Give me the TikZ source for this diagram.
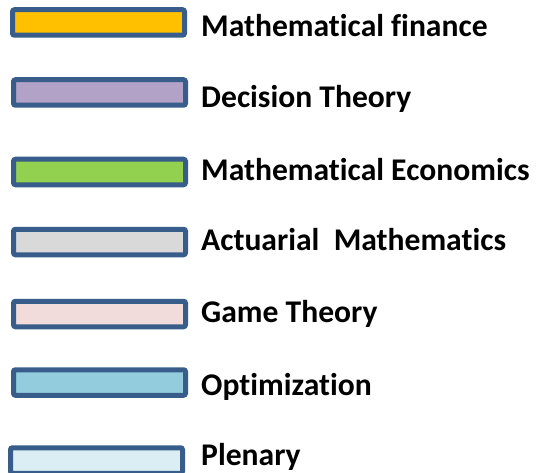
\documentclass[tikz,border=0pt]{standalone}
\usepackage{fontspec}
\setmainfont[Ligatures=NoCommon]{Carlito}
\definecolor{edgeblue}{HTML}{385D8A}
\definecolor{cfin}{HTML}{FFC000}
\definecolor{cdec}{HTML}{B3A2C7}
\definecolor{ceco}{HTML}{92D050}
\definecolor{cact}{HTML}{D9D9D9}
\definecolor{cgame}{HTML}{F2DCDB}
\definecolor{copt}{HTML}{93CDDD}
\definecolor{cplen}{HTML}{DBEEF4}
\begin{document}
\begin{tikzpicture}[x=1pt,y=-1pt,
  keybox/.style={draw=edgeblue, line width=5pt, rounded corners=2pt, inner sep=0pt,
    minimum width=172pt, minimum height=25.5pt},
  keytext/.style={anchor=base west, inner sep=0pt, font=\fontsize{31.6}{36}\selectfont\bfseries}]
\useasboundingbox (0,0) rectangle (540,473);
\node[keybox, fill=cfin]  (b1) at (98.5,22.5) {};
\node[keybox, fill=cdec]  (b2) at (99.5,92.5) {};
\node[keybox, fill=ceco]  (b3) at (99.5,172) {};
\node[keybox, fill=cact]  (b4) at (99.5,242) {};
\node[keybox, fill=cgame] (b5) at (99.5,314) {};
\node[keybox, fill=copt]  (b6) at (99.5,382.5) {};
\node[keybox, fill=cplen] (b7) at (96.5,460.5) {};
\node[keytext] (t1) at (201,37) {Mathematical finance};
\node[keytext] (t2) at (201,108) {Decision Theory};
\node[keytext] (t3) at (201,180) {Mathematical Economics};
\node[keytext] (t4) at (201,250) {Actuarial\ \ Mathematics};
\node[keytext] (t5) at (201,322) {Game Theory};
\node[keytext] (t6) at (201,395) {Optimization};
\node[keytext] (t7) at (201,465) {Plenary};
\end{tikzpicture}
\end{document}
